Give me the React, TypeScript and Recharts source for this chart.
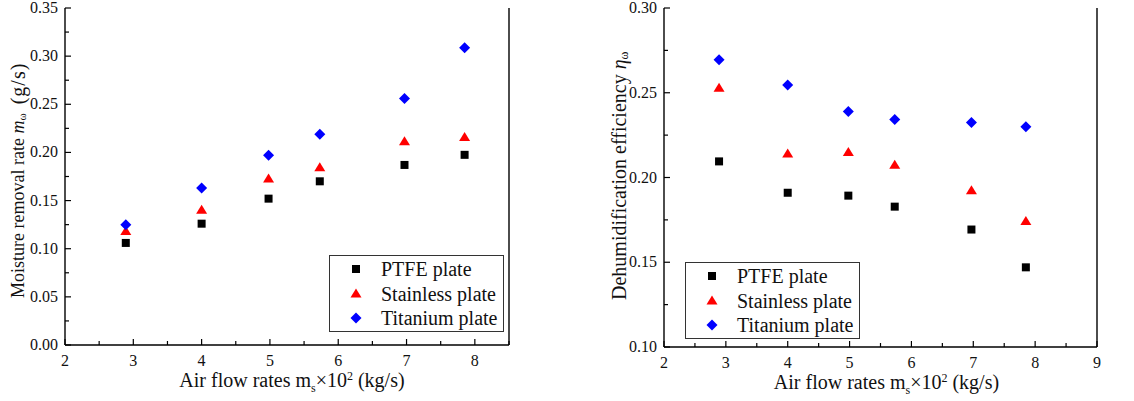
import { Scatter, ScatterChart, XAxis, YAxis } from 'recharts';

const FONT = '"Liberation Serif", "Times New Roman", serif';

// x positions (air flow rate ×10²) shared by both panels
const flowRates = [2.89, 4.0, 4.98, 5.73, 6.97, 7.85];

// left panel: moisture removal rate (g/s)
const ptfeRemoval = [0.106, 0.126, 0.152, 0.17, 0.187, 0.1975];
const stainlessRemoval = [0.118, 0.14, 0.1725, 0.184, 0.211, 0.2155];
const titaniumRemoval = [0.125, 0.163, 0.197, 0.219, 0.256, 0.3087];

// right panel: dehumidification efficiency
const ptfeEff = [0.2095, 0.191, 0.1893, 0.1828, 0.1693, 0.147];
const stainlessEff = [0.2526, 0.2139, 0.2147, 0.2072, 0.1922, 0.1741];
const titaniumEff = [0.2695, 0.2545, 0.239, 0.2342, 0.2324, 0.2299];

// tick lists (majors get labels)
const leftXTicks = [2, 2.5, 3, 3.5, 4, 4.5, 5, 5.5, 6, 6.5, 7, 7.5, 8, 8.5];
const leftXMajor = [2, 3, 4, 5, 6, 7, 8];
const leftYTicks = [0, 0.025, 0.05, 0.075, 0.1, 0.125, 0.15, 0.175, 0.2, 0.225, 0.25, 0.275, 0.3, 0.325, 0.35];
const leftYMajor = [0, 0.05, 0.1, 0.15, 0.2, 0.25, 0.3, 0.35];
const rightXTicks = [2, 2.5, 3, 3.5, 4, 4.5, 5, 5.5, 6, 6.5, 7, 7.5, 8, 8.5, 9];
const rightXMajor = [2, 3, 4, 5, 6, 7, 8, 9];
const rightYTicks = [0.1, 0.125, 0.15, 0.175, 0.2, 0.225, 0.25, 0.275, 0.3];
const rightYMajor = [0.1, 0.15, 0.2, 0.25, 0.3];

const seriesNames = ['PTFE plate', 'Stainless plate', 'Titanium plate'];
const COLORS = ['#000000', '#ff0000', '#0000ff'];

const toPoints = (ys: number[]) => flowRates.map((x, i) => ({ x, y: ys[i] }));

const isMajor = (list: number[], v: number) => list.some(m => Math.abs(m - v) < 1e-9);

function Marker({ kind, cx, cy }: { kind: number; cx: number; cy: number }) {
  if (kind === 0) return <rect x={cx - 4} y={cy - 4} width={8} height={8} fill={COLORS[0]} />;
  if (kind === 1)
    return <polygon points={`${cx},${cy - 5.5} ${cx + 5.5},${cy + 3.5} ${cx - 5.5},${cy + 3.5}`} fill={COLORS[1]} />;
  return <polygon points={`${cx},${cy - 5.5} ${cx + 5.5},${cy} ${cx},${cy + 5.5} ${cx - 5.5},${cy}`} fill={COLORS[2]} />;
}

const shapeFor = (kind: number) => (p: any) => <Marker kind={kind} cx={p.cx} cy={p.cy} />;

function makeTick(side: 'bottom' | 'top' | 'left' | 'right', majors: number[], digits: number) {
  return (p: any) => {
    const { x, y, payload } = p;
    const v = payload.value as number;
    const major = isMajor(majors, v);
    const len = major ? 6 : 4;
    if (side === 'bottom')
      return (
        <g>
          <line x1={x} x2={x} y1={y} y2={y - len} stroke="#000" strokeWidth={1.2} />
          {major && (
            <text x={x} y={y + 21} textAnchor="middle" fontSize={16} fontFamily={FONT} fill="#111">
              {v.toFixed(digits)}
            </text>
          )}
        </g>
      );
    if (side === 'top')
      return <line x1={x} x2={x} y1={y} y2={y + len} stroke="#000" strokeWidth={1.2} />;
    if (side === 'right')
      return <line x1={x} x2={x - len} y1={y} y2={y} stroke="#000" strokeWidth={1.2} />;
    return (
      <g>
        <line x1={x} x2={x + len} y1={y} y2={y} stroke="#000" strokeWidth={1.2} />
        {major && (
          <text x={x - 7} y={y + 5} textAnchor="end" fontSize={16} fontFamily={FONT} fill="#111">
            {v.toFixed(digits)}
          </text>
        )}
      </g>
    );
  };
}

function LegendBox({ left, top }: { left: number; top: number }) {
  return (
    <div
      style={{
        position: 'absolute',
        left,
        top,
        border: '1.3px solid #333',
        background: '#fff',
        fontFamily: FONT,
        fontSize: 20,
        color: '#111',
        padding: '1px 6px 0px 17px',
        lineHeight: '24.5px',
      }}
    >
      {seriesNames.map((n, i) => (
        <div key={n} style={{ display: 'flex', alignItems: 'center', whiteSpace: 'nowrap' }}>
          <svg width={18} height={16} style={{ marginRight: 16 }}>
            <Marker kind={i} cx={9} cy={8} />
          </svg>
          {n}
        </div>
      ))}
    </div>
  );
}

function XLabel({ cx, cy }: { cx: number; cy: number }) {
  return (
    <text x={cx} y={cy} textAnchor="middle" fontSize={20} fontFamily={FONT} fill="#111">
      Air flow rates m
      <tspan dy={5} fontSize={12}>s</tspan>
      <tspan dy={-5}>×10</tspan>
      <tspan dy={-7} fontSize={12}>2</tspan>
      <tspan dy={7}> (kg/s)</tspan>
    </text>
  );
}

function YLabelLeft({ cx, bottom }: { cx: number; bottom: number }) {
  return (
    <text
      x={cx}
      y={bottom}
      transform={`rotate(-90 ${cx} ${bottom})`}
      textAnchor="start"
      dominantBaseline="central"
      fontSize={18}
      fontFamily={FONT}
      fill="#111"
    >
      Moisture removal rate <tspan fontStyle="italic">m</tspan>
      <tspan dy={4} fontSize={11}>ω</tspan>
      <tspan dy={-4} dx={9} fontSize={20} letterSpacing={1}>(g/s)</tspan>
    </text>
  );
}

function YLabelRight({ cx, bottom }: { cx: number; bottom: number }) {
  return (
    <text
      x={cx}
      y={bottom}
      transform={`rotate(-90 ${cx} ${bottom})`}
      textAnchor="start"
      dominantBaseline="central"
      fontSize={20}
      fontFamily={FONT}
      fill="#111"
    >
      Dehumidification efficiency <tspan fontStyle="italic">η</tspan>
      <tspan dy={5} fontSize={12}>ω</tspan>
    </text>
  );
}

interface PanelProps {
  width: number;
  left: number;
  right: number;
  bottom: number;
  xDomain: [number, number];
  yDomain: [number, number];
  xTicks: number[];
  xMajor: number[];
  yTicks: number[];
  yMajor: number[];
  series: number[][];
  yLabel: JSX.Element;
  xLabelOffset: number;
}

function Panel(props: PanelProps) {
  const { width, left, right, bottom, xDomain, yDomain, xTicks, xMajor, yTicks, yMajor, series } = props;
  const axisLine = { stroke: '#000', strokeWidth: 1.4 };
  return (
    <ScatterChart width={width} height={401} margin={{ top: 8, right: 0, bottom: 0, left: 0 }}>
      <XAxis
        xAxisId="b"
        type="number"
        dataKey="x"
        orientation="bottom"
        domain={xDomain}
        ticks={xTicks}
        interval={0}
        height={bottom}
        tickSize={0}
        tickMargin={0}
        tickLine={false}
        axisLine={axisLine}
        tick={makeTick('bottom', xMajor, 0)}
        label={{
          content: (lp: any) => {
            const vb = lp.viewBox;
            return <XLabel cx={vb.x + vb.width / 2 + props.xLabelOffset} cy={vb.y + 42} />;
          },
        }}
      />
      <XAxis
        xAxisId="t"
        type="number"
        dataKey="x"
        orientation="top"
        domain={xDomain}
        ticks={xTicks}
        interval={0}
        height={0}
        tickSize={0}
        tickMargin={0}
        tickLine={false}
        axisLine={axisLine}
        tick={makeTick('top', xMajor, 0)}
      />
      <YAxis
        yAxisId="l"
        type="number"
        dataKey="y"
        orientation="left"
        domain={yDomain}
        ticks={yTicks}
        interval={0}
        width={left}
        tickSize={0}
        tickMargin={0}
        tickLine={false}
        axisLine={axisLine}
        tick={makeTick('left', yMajor, 2)}
        label={{ content: () => props.yLabel }}
      />
      <YAxis
        yAxisId="r"
        type="number"
        dataKey="y"
        orientation="right"
        domain={yDomain}
        ticks={yTicks}
        interval={0}
        width={right}
        tickSize={0}
        tickMargin={0}
        tickLine={false}
        axisLine={axisLine}
        tick={makeTick('right', yMajor, 2)}
      />
      {series.map((ys, i) => (
        <Scatter
          key={seriesNames[i]}
          name={seriesNames[i]}
          data={toPoints(ys)}
          xAxisId="b"
          yAxisId="l"
          fill={COLORS[i]}
          shape={shapeFor(i)}
          isAnimationActive={false}
        />
      ))}
    </ScatterChart>
  );
}

export default function App() {
  return (
    <div style={{ position: 'fixed', left: 0, top: 0, width: 1134, height: 401, background: '#fff' }}>
      <div style={{ position: 'absolute', left: 0, top: 0 }}>
        <Panel
          width={540}
          left={65}
          right={31}
          bottom={56}
          xDomain={[2, 8.5]}
          yDomain={[0, 0.35]}
          xTicks={leftXTicks}
          xMajor={leftXMajor}
          yTicks={leftYTicks}
          yMajor={leftYMajor}
          series={[ptfeRemoval, stainlessRemoval, titaniumRemoval]}
          yLabel={<YLabelLeft cx={18} bottom={298} />}
          xLabelOffset={5}
        />
      </div>
      <div style={{ position: 'absolute', left: 580, top: 0 }}>
        <Panel
          width={554}
          left={84}
          right={37}
          bottom={54}
          xDomain={[2, 9]}
          yDomain={[0.1, 0.3]}
          xTicks={rightXTicks}
          xMajor={rightXMajor}
          yTicks={rightYTicks}
          yMajor={rightYMajor}
          series={[ptfeEff, stainlessEff, titaniumEff]}
          yLabel={<YLabelRight cx={39} bottom={300} />}
          xLabelOffset={6}
        />
      </div>
      <LegendBox left={329} top={255} />
      <LegendBox left={685} top={262} />
    </div>
  );
}
